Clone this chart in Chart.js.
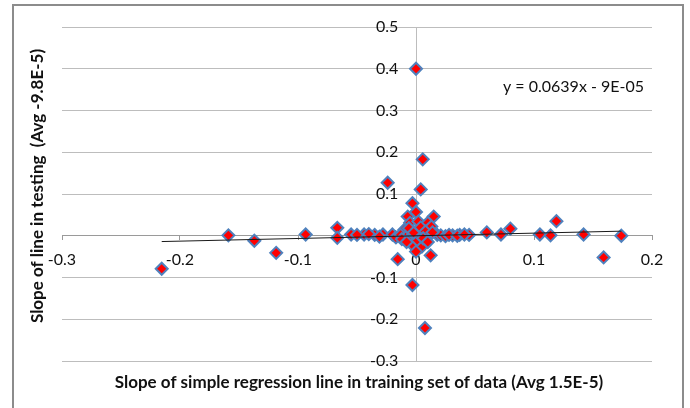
<!DOCTYPE html>
<html>
<head>
<meta charset="utf-8">
<script src="https://cdn.jsdelivr.net/npm/chart.js@4"></script>
<style>
  html, body { margin: 0; padding: 0; background: #fff; }
  #wrap { width: 690px; height: 408px; position: relative; }
</style>
</head>
<body>
<div id="wrap"><canvas id="slopeChart" width="690" height="408"></canvas></div>
<script>
// slope of regression line in training set (x) vs slope in testing (y)
const trainSlope = [
  -0.2155, -0.159, -0.137, -0.1185, -0.0935, -0.0667, -0.0667, -0.055, -0.044, -0.035,
  -0.028, -0.024, -0.0155, -0.003, 0.0, 0.0057, 0.004, -0.003, 0.0, 0.015,
  -0.007, -0.010, 0.0124, 0.0076, 0.031, 0.037, 0.045, 0.060, 0.072, 0.080,
  0.105, 0.114, 0.119, 0.142, 0.159, 0.174,
  -0.050, -0.040, -0.031, -0.020, -0.017, -0.013, -0.007, -0.004, -0.002, 0.002,
  0.006, 0.009, 0.018, 0.021, 0.025, 0.028, 0.035, 0.041,
  -0.004, -0.005, 0.002, 0.010, 0.013, -0.006, 0.004, 0.008, -0.012, -0.003,
  0.005, 0.000, 0.001, 0.006, -0.008, 0.010, 0.014, -0.002
];
const testSlope = [
  -0.079, 0.001, -0.012, -0.041, 0.003, 0.019, -0.005, 0.003, 0.003, 0.002,
  0.003, 0.127, -0.056, -0.118, 0.400, 0.183, 0.111, 0.078, 0.057, 0.046,
  0.046, 0.014, -0.047, -0.221, 0.001, 0.002, 0.002, 0.008, 0.003, 0.017,
  0.003, 0.001, 0.035, 0.003, -0.052, 0.000,
  0.002, 0.004, -0.002, 0.003, -0.004, 0.002, 0.001, -0.003, 0.004, 0.000,
  0.003, -0.002, 0.002, 0.001, -0.001, 0.002, 0.000, 0.003,
  0.012, 0.031, 0.034, 0.031, 0.022, 0.018, 0.020, 0.010, -0.008, -0.022,
  -0.026, -0.038, -0.010, -0.006, -0.015, -0.015, 0.008, 0.007
];
// linear trendline end points
const trendX = [-0.2155, 0.174];
const trendY = [-0.0139, 0.0110];
const trendLabel = 'y = 0.0639x - 9E-05';

const xTicks = [-0.3, -0.2, -0.1, 0, 0.1, 0.2];
const yTicks = [-0.3, -0.2, -0.1, 0, 0.1, 0.2, 0.3, 0.4, 0.5];
const xTitle = 'Slope of simple regression line in training set of data (Avg 1.5E-5)';
const yTitle = 'Slope of line in testing  (Avg -9.8E-5)';

const FONT = 'Lato';

const points = trainSlope.map((x, i) => ({ x: x, y: testSlope[i] }));
const trend = trendX.map((x, i) => ({ x: x, y: trendY[i] }));

// outer frame, axis titles and the trendline equation
const decorations = {
  id: 'decorations',
  beforeDraw(chart) {
    const ctx = chart.ctx;
    ctx.save();
    ctx.fillStyle = '#fff';
    ctx.fillRect(0, 0, chart.width, chart.height);
    ctx.strokeStyle = '#8c8c8c';
    ctx.lineWidth = 2;
    ctx.strokeRect(13, 5, 670, 420);
    ctx.restore();
  },
  afterDraw(chart) {
    const ctx = chart.ctx;
    ctx.save();
    ctx.fillStyle = '#111';
    ctx.textAlign = 'center';
    ctx.textBaseline = 'middle';
    ctx.font = 'bold 17px ' + FONT;
    ctx.fillText(xTitle, 359, 383);
    ctx.translate(38, 186);
    ctx.rotate(-Math.PI / 2);
    ctx.fillText(yTitle, 0, 0);
    ctx.restore();

    ctx.save();
    ctx.fillStyle = '#111';
    ctx.font = '16px ' + FONT;
    ctx.textAlign = 'left';
    ctx.textBaseline = 'middle';
    ctx.fillText(trendLabel, 503, 87);
    ctx.restore();
  }
};

const ctx = document.getElementById('slopeChart').getContext('2d');
const slopeChart = new Chart(ctx, {
  type: 'scatter',
  data: {
    datasets: [
      {
        type: 'line',
        data: trend,
        borderColor: '#1a1a1a',
        borderWidth: 1,
        pointRadius: 0,
        fill: false,
        order: 0
      },
      {
        data: points,
        pointStyle: 'rectRot',
        pointRadius: 6,
        pointBackgroundColor: '#ff0000',
        pointBorderColor: '#4f81bd',
        pointBorderWidth: 2,
        order: 1
      }
    ]
  },
  options: {
    responsive: false,
    animation: false,
    devicePixelRatio: 1,
    layout: { padding: { left: 62, right: 38, top: 27, bottom: 47 } },
    plugins: {
      legend: { display: false },
      tooltip: { enabled: false }
    },
    scales: {
      x: {
        type: 'linear',
        min: -0.3,
        max: 0.2,
        position: { y: 0 },
        afterBuildTicks: (axis) => { axis.ticks = xTicks.map(v => ({ value: v })); },
        ticks: {
          color: '#111',
          font: { family: FONT, size: 16 },
          padding: 10,
          maxRotation: 0,
          autoSkip: false,
          callback: (v) => String(v)
        },
        grid: {
          color: (c) => (c.tick && c.tick.value === 0 ? '#bdbdbd' : 'rgba(0,0,0,0)'),
          tickColor: '#9a9a9a',
          tickLength: 4,
          lineWidth: 1
        },
        border: { display: true, color: '#9a9a9a', width: 1 }
      },
      y: {
        type: 'linear',
        min: -0.3,
        max: 0.5,
        position: { x: -0.015 },
        afterBuildTicks: (axis) => { axis.ticks = yTicks.map(v => ({ value: v })); },
        ticks: {
          color: '#111',
          font: { family: FONT, size: 16 },
          autoSkip: false,
          callback: (v) => String(v)
        },
        grid: {
          color: '#bdbdbd',
          lineWidth: 1,
          drawTicks: false
        },
        border: { display: false }
      }
    }
  },
  plugins: [decorations]
});
</script>
</body>
</html>
